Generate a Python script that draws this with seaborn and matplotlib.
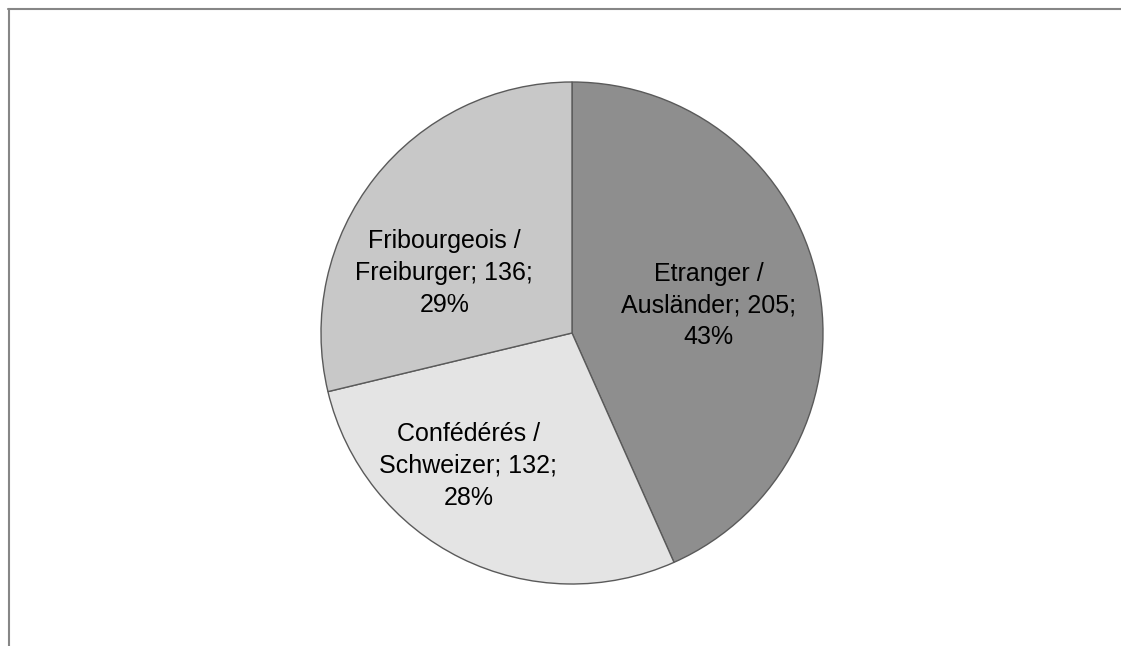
import matplotlib
matplotlib.use("Agg")
import numpy as np
import matplotlib.pyplot as plt
import seaborn as sns
from matplotlib.lines import Line2D

sns.set_theme(style="white")
plt.rcParams['font.family'] = ['Liberation Sans', 'DejaVu Sans']

categories = ["Etranger /\nAusländer", "Confédérés /\nSchweizer", "Fribourgeois /\nFreiburger"]
values = [205, 132, 136]
percents = ["43%", "28%", "29%"]
colors = ["#8e8e8e", "#e4e4e4", "#c8c8c8"]

labels = [f"{c}; {v};\n{p}" for c, v, p in zip(categories, values, percents)]

# label placement (radial distance as fraction of radius, angular shift in degrees)
label_dist = [0.555, 0.672, 0.562]
label_shift = [-0.7, -11.7, 13.1]

W, H = 1121, 646
fig = plt.figure(figsize=(W / 100, H / 100), dpi=100)
fig.patch.set_facecolor("white")

cx, cy, r = 572, 333, 251
ax = fig.add_axes([(cx - r) / W, (H - cy - r) / H, 2 * r / W, 2 * r / H])

wedges, texts = ax.pie(values, labels=labels, colors=colors, startangle=90,
                       counterclock=False, labeldistance=0.55,
                       wedgeprops=dict(edgecolor="#5a5a5a", linewidth=1.0),
                       textprops=dict(fontsize=18, color="black", linespacing=1.4))
for w, t, d, s in zip(wedges, texts, label_dist, label_shift):
    mid = np.deg2rad((w.theta1 + w.theta2) / 2 + s)
    t.set_position((d * np.cos(mid), d * np.sin(mid)))
    t.set_ha("center")
    t.set_va("center")
    t.set_multialignment("center")
ax.set_xlim(-1, 1)
ax.set_ylim(-1, 1)
ax.set_aspect("equal")
ax.axis("off")

# chart-area border (top and left only visible)
fig.add_artist(Line2D([8 / W, 1], [1 - 9 / H, 1 - 9 / H], transform=fig.transFigure,
                      color="#868686", linewidth=1.5))
fig.add_artist(Line2D([9 / W, 9 / W], [0, 1 - 9 / H], transform=fig.transFigure,
                      color="#868686", linewidth=1.5))

fig.savefig("out.png", dpi=100, facecolor="white")
